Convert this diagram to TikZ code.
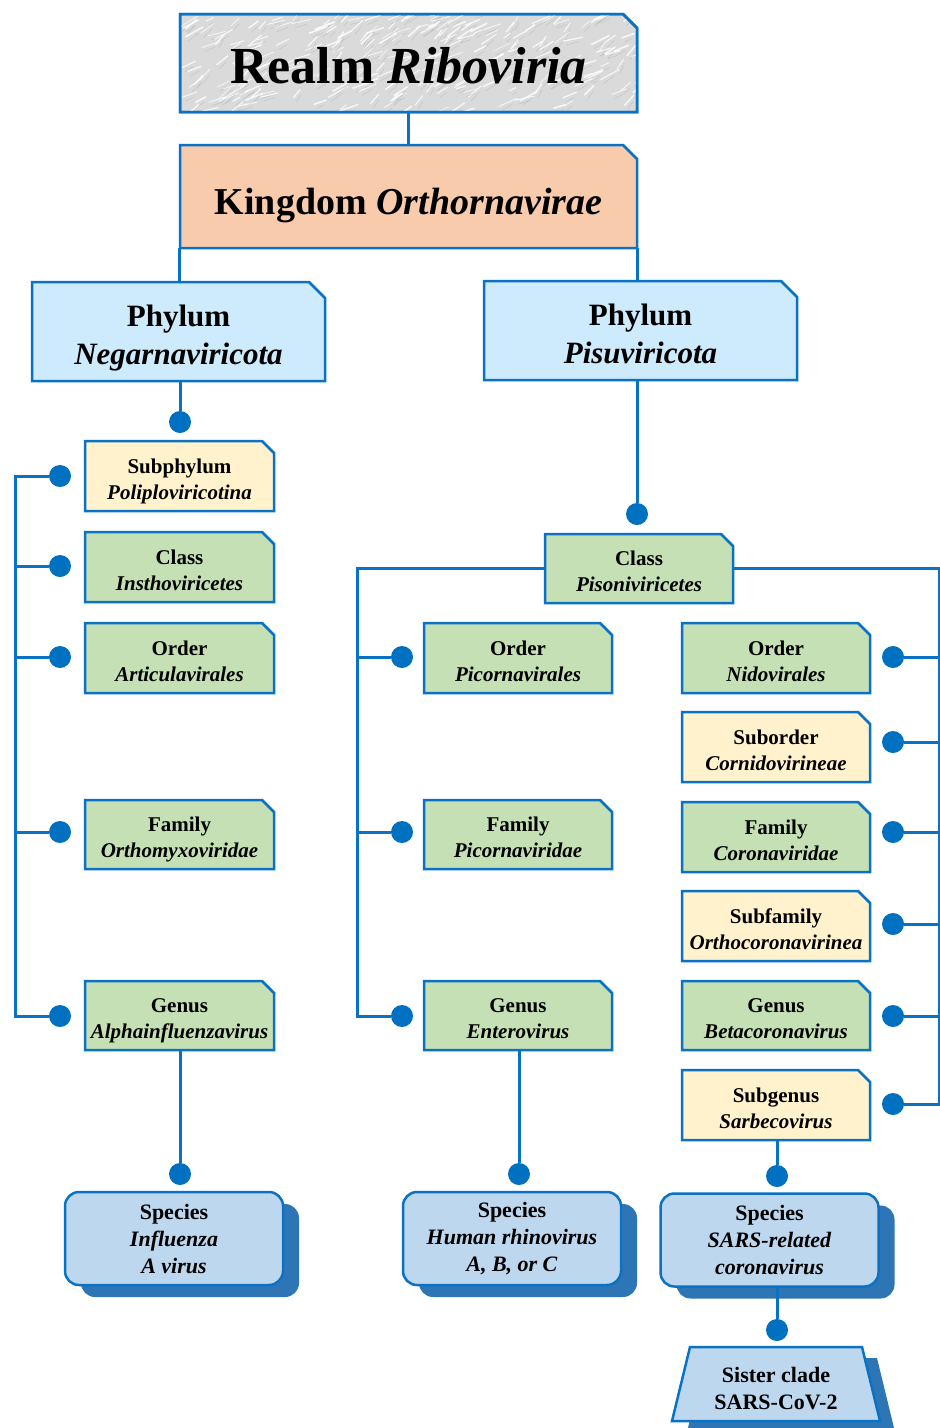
\documentclass[tikz,border=0pt]{standalone}
\usepackage{fontspec}
\setmainfont{Liberation Serif}
\usetikzlibrary{shadows}
\definecolor{lineblue}{HTML}{0A72C4}
\definecolor{dotblue}{HTML}{0070C0}
\definecolor{cream}{HTML}{FFF2CC}
\definecolor{green}{HTML}{C5E0B4}
\definecolor{phyblue}{HTML}{CDEBFC}
\definecolor{spblue}{HTML}{BDD7EE}
\definecolor{shblue}{HTML}{2E75B6}
\definecolor{peach}{HTML}{F8CBAD}
\definecolor{marble}{HTML}{DADADA}
\tikzset{
  boxline/.style={draw=lineblue, line width=2.5pt},
  conn/.style={draw=lineblue, line width=3pt},
  boxarea/.style={inner sep=0pt, draw=none},
  txt/.style={inner sep=0pt, align=center, yshift=-5pt, font=\fontsize{21}{26}\selectfont\bfseries},
  bigtxt/.style={inner sep=0pt, align=center, yshift=-6pt, font=\fontsize{31}{38}\selectfont\bfseries},
  dotnode/.style={circle, fill=dotblue, minimum size=22pt, inner sep=0pt},
  species/.style={boxline, fill=spblue, rounded corners=14pt, inner sep=0pt, align=center,
    font=\fontsize{22}{27}\selectfont\bfseries, minimum width=218pt, minimum height=93pt,
    drop shadow={shadow xshift=16pt, shadow yshift=-12pt, fill=shblue, opacity=1, draw=none}},
}
\def\cham{12}
% name, x1, y1, x2, y2, fill, text style, text
\newcommand\cutbox[8]{%
  \filldraw[boxline, fill=#6] (#2,#3) -- ({#4-\cham},#3) -- (#4,{#3+\cham}) -- (#4,#5) -- (#2,#5) -- cycle;
  \node[boxarea, minimum width={(#4-#2)*1pt}, minimum height={(#5-#3)*1pt}] (#1) at ({(#2+#4)/2},{(#3+#5)/2}) {};
  \node[#7] (#1-t) at (#1.center) {#8};
}
\newcommand\tl[2]{\strut #1\\\strut\textit{#2}}
\begin{document}
\begin{tikzpicture}[x=1pt,y=-1pt]
\useasboundingbox (0,0) rectangle (940,1428);
\clip (0,0) rectangle (940,1428);
% top boxes
\def\cham{14}
\filldraw[boxline, fill=marble] (180,14) -- (623,14) -- (637,28) -- (637,112) -- (180,112) -- cycle;
\begin{scope}
  \clip (181,15) rectangle (636,111);
  \pgfmathsetseed{7}
  \foreach \i in {1,...,260}{
    \pgfmathsetmacro{\xa}{180+rnd*460}
    \pgfmathsetmacro{\ya}{14+rnd*100}
    \pgfmathsetmacro{\dx}{6+rnd*14}
    \pgfmathsetmacro{\dy}{-3-rnd*8}
    \pgfmathsetmacro{\w}{0.5+rnd*1.2}
    \draw[white, line width=\w pt, opacity=0.8] (\xa,\ya) -- ++(\dx,\dy);
    \draw[gray!70, line width=0.4pt, opacity=0.5] (\xa+3,\ya+4) -- ++(\dx*0.6,\dy*0.8);
  }
\end{scope}
\draw[boxline] (180,14) -- (623,14) -- (637,28) -- (637,112) -- (180,112) -- cycle;
\node[boxarea, minimum width=457pt, minimum height=98pt] (realm) at (408.5,63) {};
\node[inner sep=0pt, yshift=-3pt, font=\fontsize{52}{60}\selectfont\bfseries] (realm-t) at (realm.center) {Realm \textit{Riboviria}};
\cutbox{kingdom}{180}{145}{637}{248}{peach}{inner sep=0pt, yshift=-9pt, font=\fontsize{38}{44}\selectfont\bfseries}{Kingdom \textit{Orthornavirae}}
\def\cham{16}
\cutbox{phyN}{32}{282}{325}{381}{phyblue}{bigtxt}{\tl{Phylum}{Negarnaviricota}}
\cutbox{phyP}{484}{281}{797}{380}{phyblue}{bigtxt}{\tl{Phylum}{Pisuviricota}}
\def\cham{12}
% left column
\cutbox{subP}{85}{441}{274}{511}{cream}{txt}{\tl{Subphylum}{Poliploviricotina}}
\cutbox{clsI}{85}{532}{274}{602}{green}{txt}{\tl{Class}{Insthoviricetes}}
\cutbox{ordA}{85}{623}{274}{693}{green}{txt}{\tl{Order}{Articulavirales}}
\cutbox{famO}{85}{800}{274}{869}{green}{txt}{\tl{Family}{Orthomyxoviridae}}
\cutbox{genA}{85}{981}{274}{1050}{green}{txt}{\tl{Genus}{Alphainfluenzavirus}}
% middle column
\cutbox{clsP}{545}{534}{733}{603}{green}{txt}{\tl{Class}{Pisoniviricetes}}
\cutbox{ordP}{424}{623}{612}{693}{green}{txt}{\tl{Order}{Picornavirales}}
\cutbox{famP}{424}{800}{612}{869}{green}{txt}{\tl{Family}{Picornaviridae}}
\cutbox{genE}{424}{981}{612}{1050}{green}{txt}{\tl{Genus}{Enterovirus}}
% right column
\cutbox{ordN}{682}{623}{870}{693}{green}{txt}{\tl{Order}{Nidovirales}}
\cutbox{subC}{682}{712}{870}{782}{cream}{txt}{\tl{Suborder}{Cornidovirineae}}
\cutbox{famC}{682}{802}{870}{872}{green}{txt}{\tl{Family}{Coronaviridae}}
\cutbox{sfO}{682}{891}{870}{961}{cream}{txt}{\tl{Subfamily}{Orthocoronavirinea}}
\cutbox{genB}{682}{981}{870}{1050}{green}{txt}{\tl{Genus}{Betacoronavirus}}
\cutbox{sgS}{682}{1070}{870}{1140}{cream}{txt}{\tl{Subgenus}{Sarbecovirus}}
% species
\node[species] (spI) at (174,1238.5) {Species\\\textit{Influenza}\\\textit{A virus}};
\node[species] (spH) at (512,1238.5) {Species\\\textit{Human rhinovirus}\\\textit{A, B, or C}};
\node[species] (spS) at (769.5,1240) {Species\\\textit{SARS-related}\\\textit{coronavirus}};
% sister clade
\fill[shblue] (705,1358) -- (877,1358) -- (895,1432) -- (687,1432) -- cycle;
\filldraw[boxline, fill=spblue] (690,1347) -- (862,1347) -- (880,1421) -- (672,1421) -- cycle;
\node[boxarea, minimum width=190pt, minimum height=74pt] (sis) at (776,1384) {};
\node[inner sep=0pt, align=center, yshift=-5pt, font=\fontsize{22}{27}\selectfont\bfseries] (sis-t) at (sis.center) {Sister clade\\SARS-CoV-2};
% dots
\node[dotnode] (dN) at (180,422) {};
\node[dotnode] (dL1) at (60,476) {};
\node[dotnode] (dL2) at (60,566) {};
\node[dotnode] (dL3) at (60,657) {};
\node[dotnode] (dL4) at (60,832) {};
\node[dotnode] (dL5) at (60,1016) {};
\node[dotnode] (dA) at (180,1174) {};
\node[dotnode] (dP) at (637,514) {};
\node[dotnode] (dM1) at (402,657) {};
\node[dotnode] (dM2) at (402,832) {};
\node[dotnode] (dM3) at (402,1016) {};
\node[dotnode] (dE) at (519,1174) {};
\node[dotnode] (dR1) at (893,657) {};
\node[dotnode] (dR2) at (893,742) {};
\node[dotnode] (dR3) at (893,832) {};
\node[dotnode] (dR4) at (893,924) {};
\node[dotnode] (dR5) at (893,1016) {};
\node[dotnode] (dR6) at (893,1104) {};
\node[dotnode] (dS) at (777,1176) {};
\node[dotnode] (dT) at (777,1330) {};
\coordinate (lbx) at (15,0);
\coordinate (mbx) at (357,0);
\coordinate (rbx) at (939,0);
% connectors
\draw[conn] (realm.south) -- (kingdom.north);
\draw[conn] (kingdom.south west) -- (kingdom.south west |- phyN.north);
\draw[conn] (kingdom.south east) -- (kingdom.south east |- phyP.north);
\draw[conn] (phyN.south -| dN) -- (dN);
\draw[conn] (dL1) -- (dL1 -| lbx) -- (dL5 -| lbx) -- (dL5);
\draw[conn] (dL2) -- (dL2 -| lbx);
\draw[conn] (dL3) -- (dL3 -| lbx);
\draw[conn] (dL4) -- (dL4 -| lbx);
\draw[conn] (genA.south -| dA) -- (dA);
\draw[conn] (phyP.south -| dP) -- (dP);
\draw[conn] (clsP.west) -- (clsP.west -| mbx) -- (dM3 -| mbx) -- (dM3);
\draw[conn] (dM1) -- (dM1 -| mbx);
\draw[conn] (dM2) -- (dM2 -| mbx);
\draw[conn] (genE.south -| dE) -- (dE);
\draw[conn] (clsP.east) -- (clsP.east -| rbx) -- (dR6 -| rbx) -- (dR6);
\draw[conn] (dR1) -- (dR1 -| rbx);
\draw[conn] (dR2) -- (dR2 -| rbx);
\draw[conn] (dR3) -- (dR3 -| rbx);
\draw[conn] (dR4) -- (dR4 -| rbx);
\draw[conn] (dR5) -- (dR5 -| rbx);
\draw[conn] (sgS.south -| dS) -- (dS);
\draw[conn] (spS.south -| dT) -- (dT);
\end{tikzpicture}
\end{document}
